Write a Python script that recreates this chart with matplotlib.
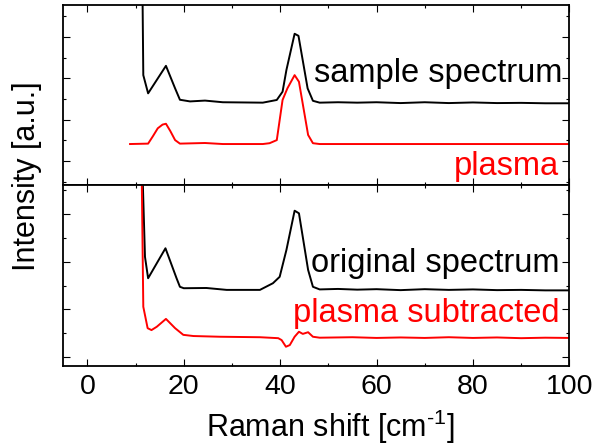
import matplotlib
matplotlib.use("Agg")
import matplotlib.pyplot as plt
from matplotlib.ticker import MultipleLocator

plt.rcParams["font.family"] = ["Liberation Sans", "DejaVu Sans"]
plt.rcParams["mathtext.fontset"] = "custom"
plt.rcParams["mathtext.rm"] = "Liberation Sans"
plt.rcParams["mathtext.it"] = "Liberation Sans:italic"
plt.rcParams["mathtext.bf"] = "Liberation Sans:bold"

# ---- upper panel: measured spectrum and plasma line spectrum ----
sample_x = [11.4, 11.6, 12.6, 16.3, 18.2, 19.2, 21.3, 24.4, 28.1, 36.4, 39.3,
            40.5, 41.3, 43.0, 43.8, 45.7, 46.8, 48.2, 52, 56, 60, 65, 70,
            75, 80, 85, 90, 95, 100]
sample_y = [9.0, 4.15, 3.27, 4.60, 3.51, 2.96, 2.88, 2.92, 2.84, 2.82, 2.95,
            3.35, 4.40, 6.15, 6.05, 3.51, 2.91, 2.82, 2.84, 2.82, 2.84, 2.80, 2.84,
            2.80, 2.83, 2.80, 2.81, 2.79, 2.79]

plasma_x = [8.85, 12.6, 13.6, 14.6, 15.6, 16.3, 17.2, 18.2, 19.2, 24.4, 28.1,
            36.4, 37.8, 39.3, 40.5, 41.5, 43.0, 43.9, 45.8, 46.8, 48.2, 100]
plasma_y = [0.82, 0.84, 1.20, 1.58, 1.76, 1.80, 1.45, 1.01, 0.84, 0.87, 0.82,
            0.82, 0.86, 1.01, 2.95, 3.51, 4.15, 3.83, 1.26, 0.86, 0.82, 0.82]

# ---- lower panel: original spectrum and plasma-subtracted spectrum ----
orig_x = [11.4, 11.95, 12.6, 16.2, 18.5, 19.2, 20.0, 24.7, 28.9, 35.8, 38.5,
          39.9, 41.3, 43.0, 43.9, 45.8, 46.8, 48.2, 52, 56, 60, 65, 70,
          75, 80, 85, 90, 95, 100]
orig_y = [8.0, 4.21, 3.31, 4.57, 3.31, 2.95, 2.89, 2.90, 2.82, 2.82, 3.10,
          3.37, 4.50, 6.15, 6.04, 3.66, 2.95, 2.84, 2.86, 2.83, 2.85, 2.81, 2.85,
          2.82, 2.84, 2.81, 2.82, 2.80, 2.80]

subtr_x = [11.25, 11.6, 12.5, 13.3, 14.4, 16.3, 18.2, 19.9, 22.0, 27.5, 35.8,
           39.6, 40.3, 41.2, 42.0, 43.0, 43.9, 44.7, 45.8, 46.8, 48.2, 55, 60,
           65, 70, 75, 80, 85, 90, 95, 100]
subtr_y = [8.0, 2.11, 1.21, 1.13, 1.27, 1.60, 1.21, 0.93, 0.88, 0.85, 0.83,
           0.79, 0.71, 0.43, 0.50, 0.85, 1.06, 0.97, 1.04, 0.85, 0.81, 0.83, 0.80,
           0.82, 0.80, 0.83, 0.80, 0.82, 0.79, 0.81, 0.80]

W, H = 598, 446
fig = plt.figure(figsize=(W / 100, H / 100), dpi=100)
left, right = 63.3, 569.3
ax_top = fig.add_axes([left / W, 1 - 185 / H, (right - left) / W, 180 / H])
ax_bot = fig.add_axes([left / W, 1 - 366 / H, (right - left) / W, 181 / H])

lw = 1.4
ax_top.plot(sample_x, sample_y, color="black", lw=lw)
ax_top.plot(plasma_x, plasma_y, color="#ff0000", lw=lw)
ax_bot.plot(orig_x, orig_y, color="black", lw=lw)
ax_bot.plot(subtr_x, subtr_y, color="#ff0000", lw=lw)

ax_top.set_ylim(-1.16, 7.54)
ax_bot.set_ylim(-0.38, 7.23)

txt = dict(fontsize=23.5, ha="right", va="baseline")
ax_top.text(98.6, 3.82, "sample spectrum", color="black", **txt)
ax_top.text(97.9, -0.68, "plasma", color="#ff0000", **txt)
ax_bot.text(97.9, 3.58, "original spectrum", color="black", **txt)
ax_bot.text(97.9, 1.48, "plasma subtracted", color="#ff0000", **txt)

for ax in (ax_top, ax_bot):
    ax.set_xlim(-5, 100)
    ax.xaxis.set_major_locator(MultipleLocator(20))
    ax.xaxis.set_minor_locator(MultipleLocator(10))
    ax.yaxis.set_major_locator(MultipleLocator(2))
    ax.yaxis.set_minor_locator(MultipleLocator(1))
    ax.tick_params(which="both", direction="in", top=True, bottom=True,
                   left=True, right=True, width=0.8, labelleft=False)
    ax.tick_params(which="major", length=5)
    ax.tick_params(which="minor", length=2.5)
    for s in ax.spines.values():
        s.set_linewidth(1.3)

ax_top.tick_params(labelbottom=False)
ax_bot.tick_params(axis="x", labelsize=20.5, pad=6)

fig.text(330 / W, 1 - 437 / H, "Raman shift [cm$^{\\text{-}1}$]", fontsize=22,
         ha="center", va="baseline")
fig.text(27 / W, 1 - 176 / H, "Intensity [a.u.]", fontsize=22,
         rotation=90, ha="center", va="center")

fig.savefig("out.png", dpi=100)
